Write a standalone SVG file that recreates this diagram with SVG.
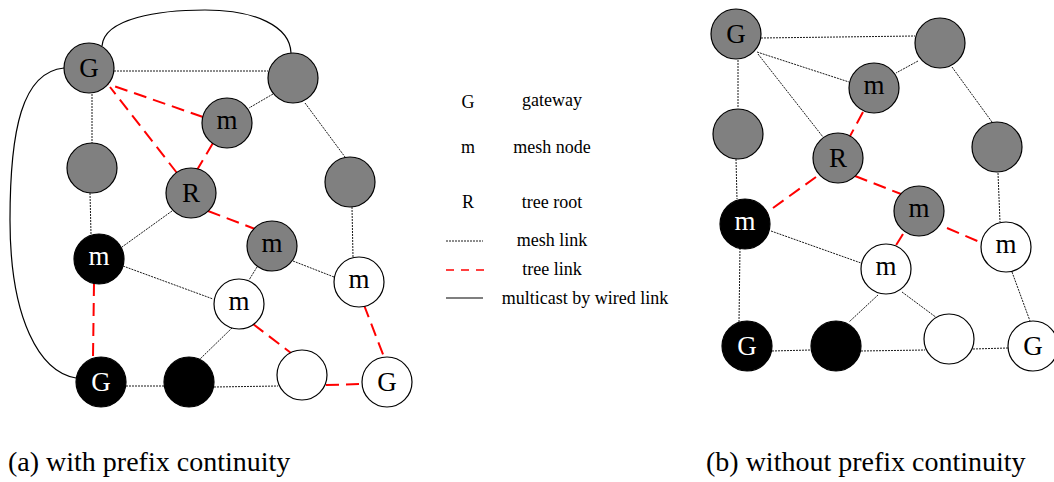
<svg xmlns="http://www.w3.org/2000/svg" width="1054" height="482" viewBox="0 0 1054 482">
<style>
.n{stroke:#000;stroke-width:1.2}
.g{fill:#808080}
.k{fill:#000}
.w{fill:#fff}
.mesh{stroke:#000;stroke-width:0.9;stroke-dasharray:2,1;fill:none}
.tree{stroke:#f00;stroke-width:2;stroke-dasharray:13,7;fill:none}
.wire{stroke:#000;stroke-width:1.2;fill:none}
text{font-family:"Liberation Serif","Times New Roman",serif;fill:#000}
.lbl{font-size:27px;text-anchor:middle}
.wl{fill:#fff}
.lg{font-size:18px;text-anchor:middle}
.cap{font-size:28px}
</style>
<rect width="1054" height="482" fill="#fff"/>
<g id="connectors-a">
<path class="wire" d="M102,46 C104,18 160,10 205,10 C255,10 290,26 291,53"/>
<path class="wire" d="M64,68 C22,72 10,130 10,220 C10,320 40,372 76,378"/>
<line class="mesh" x1="114" y1="71" x2="268" y2="71"/>
<line class="mesh" x1="92" y1="94" x2="92" y2="143"/>
<line class="mesh" x1="273" y1="94" x2="249" y2="108"/>
<line class="mesh" x1="305" y1="103" x2="345" y2="157"/>
<line class="mesh" x1="90" y1="193" x2="91" y2="234"/>
<line class="mesh" x1="172" y1="211" x2="122" y2="247"/>
<line class="mesh" x1="352" y1="207" x2="353" y2="257"/>
<line class="mesh" x1="123" y1="266" x2="213" y2="299"/>
<line class="mesh" x1="257" y1="267" x2="249" y2="280"/>
<line class="mesh" x1="293" y1="261" x2="334" y2="277"/>
<line class="mesh" x1="232" y1="328" x2="199" y2="360"/>
<line class="mesh" x1="126" y1="386" x2="164" y2="386"/>
<line class="mesh" x1="214" y1="387" x2="278" y2="386"/>
<line class="tree" x1="203" y1="117" x2="108" y2="84"/>
<line class="tree" x1="177" y1="173" x2="110" y2="87"/>
<line class="tree" x1="213" y1="143" x2="197" y2="170"/>
<line class="tree" x1="208" y1="211" x2="255" y2="229"/>
<line class="tree" x1="94" y1="283" x2="93" y2="358"/>
<line class="tree" x1="253" y1="324" x2="291" y2="353"/>
<line class="tree" x1="326" y1="385" x2="362" y2="384"/>
<line class="tree" x1="364" y1="305" x2="384" y2="357"/>
</g>
<g id="a-G-top"><circle class="n g" cx="89" cy="68" r="25"/><text class="lbl" x="89" y="77">G</text></g>
<g id="a-gray-tr"><circle class="n g" cx="293" cy="78" r="25"/></g>
<g id="a-m-top"><circle class="n g" cx="227" cy="123" r="25"/><text class="lbl" x="227" y="129">m</text></g>
<g id="a-gray-l"><circle class="n g" cx="92" cy="168" r="25"/></g>
<g id="a-R"><circle class="n g" cx="191" cy="193" r="25"/><text class="lbl" x="191" y="202">R</text></g>
<g id="a-gray-r"><circle class="n g" cx="350" cy="182" r="25"/></g>
<g id="a-m-mid"><circle class="n g" cx="272" cy="246" r="25"/><text class="lbl" x="272" y="252">m</text></g>
<g id="a-m-black"><circle class="n k" cx="99" cy="259" r="25"/><text class="lbl wl" x="99" y="265">m</text></g>
<g id="a-m-wr"><circle class="n w" cx="359" cy="282" r="25"/><text class="lbl" x="359" y="288">m</text></g>
<g id="a-m-wc"><circle class="n w" cx="239" cy="304" r="25"/><text class="lbl" x="239" y="310">m</text></g>
<g id="a-G-black"><circle class="n k" cx="101" cy="382" r="25"/><text class="lbl wl" x="101" y="391">G</text></g>
<g id="a-black"><circle class="n k" cx="189" cy="382" r="25"/></g>
<g id="a-white"><circle class="n w" cx="302" cy="375" r="25"/></g>
<g id="a-G-white"><circle class="n w" cx="387" cy="382" r="25"/><text class="lbl" x="387" y="391">G</text></g>

<g id="legend">
<text class="lg" x="468" y="108">G</text>
<text class="lg" x="552" y="106">gateway</text>
<text class="lg" x="468" y="153">m</text>
<text class="lg" x="552" y="153">mesh node</text>
<text class="lg" x="468" y="208">R</text>
<text class="lg" x="552" y="208">tree root</text>
<line class="mesh" x1="446" y1="241" x2="483" y2="241"/>
<text class="lg" x="552" y="246">mesh link</text>
<line class="tree" x1="446" y1="270" x2="484" y2="270" style="stroke-width:1.5;stroke-dasharray:8,7"/>
<text class="lg" x="552" y="275">tree link</text>
<line class="wire" x1="446" y1="298" x2="483" y2="298"/>
<text class="lg" x="585" y="304">multicast by wired link</text>
</g>

<g id="connectors-b">
<line class="mesh" x1="761" y1="38" x2="915" y2="36"/>
<line class="mesh" x1="757" y1="52" x2="849" y2="82"/>
<line class="mesh" x1="758" y1="54" x2="823" y2="137"/>
<line class="mesh" x1="738" y1="60" x2="738" y2="108"/>
<line class="mesh" x1="918" y1="61" x2="896" y2="73"/>
<line class="mesh" x1="952" y1="67" x2="992" y2="122"/>
<line class="mesh" x1="736" y1="159" x2="737" y2="199"/>
<line class="mesh" x1="998" y1="173" x2="1000" y2="222"/>
<line class="mesh" x1="771" y1="231" x2="861" y2="263"/>
<line class="mesh" x1="740" y1="248" x2="739" y2="322"/>
<line class="mesh" x1="878" y1="295" x2="849" y2="322"/>
<line class="mesh" x1="902" y1="292" x2="937" y2="318"/>
<line class="mesh" x1="1012" y1="272" x2="1030" y2="321"/>
<line class="mesh" x1="772" y1="351" x2="811" y2="350"/>
<line class="mesh" x1="861" y1="351" x2="925" y2="350"/>
<line class="mesh" x1="973" y1="349" x2="1008" y2="348"/>
<line class="tree" x1="863" y1="112" x2="849" y2="138"/>
<line class="tree" x1="816" y1="177" x2="766" y2="213"/>
<line class="tree" x1="855" y1="176" x2="901" y2="194"/>
<line class="tree" x1="903" y1="234" x2="895" y2="247"/>
<line class="tree" x1="947" y1="228" x2="982" y2="243"/>
</g>
<g id="b-G-top"><circle class="n g" cx="736" cy="34" r="25"/><text class="lbl" x="736" y="43">G</text></g>
<g id="b-gray-tr"><circle class="n g" cx="940" cy="43" r="25"/></g>
<g id="b-m-top"><circle class="n g" cx="874" cy="88" r="25"/><text class="lbl" x="874" y="94">m</text></g>
<g id="b-gray-l"><circle class="n g" cx="738" cy="134" r="25"/></g>
<g id="b-R"><circle class="n g" cx="838" cy="158" r="25"/><text class="lbl" x="838" y="167">R</text></g>
<g id="b-gray-r"><circle class="n g" cx="997" cy="147" r="25"/></g>
<g id="b-m-mid"><circle class="n g" cx="919" cy="211" r="25"/><text class="lbl" x="919" y="217">m</text></g>
<g id="b-m-black"><circle class="n k" cx="745" cy="224" r="25"/><text class="lbl wl" x="745" y="230">m</text></g>
<g id="b-m-wr"><circle class="n w" cx="1006" cy="247" r="25"/><text class="lbl" x="1006" y="253">m</text></g>
<g id="b-m-wc"><circle class="n w" cx="886" cy="269" r="25"/><text class="lbl" x="886" y="275">m</text></g>
<g id="b-G-black"><circle class="n k" cx="747" cy="346" r="25"/><text class="lbl wl" x="747" y="355">G</text></g>
<g id="b-black"><circle class="n k" cx="836" cy="346" r="25"/></g>
<g id="b-white"><circle class="n w" cx="949" cy="339" r="25"/></g>
<g id="b-G-white"><circle class="n w" cx="1033" cy="346" r="25"/><text class="lbl" x="1033" y="355">G</text></g>

<text class="cap" x="8" y="471">(a) with prefix continuity</text>
<text class="cap" x="706" y="471">(b) without prefix continuity</text>
</svg>
